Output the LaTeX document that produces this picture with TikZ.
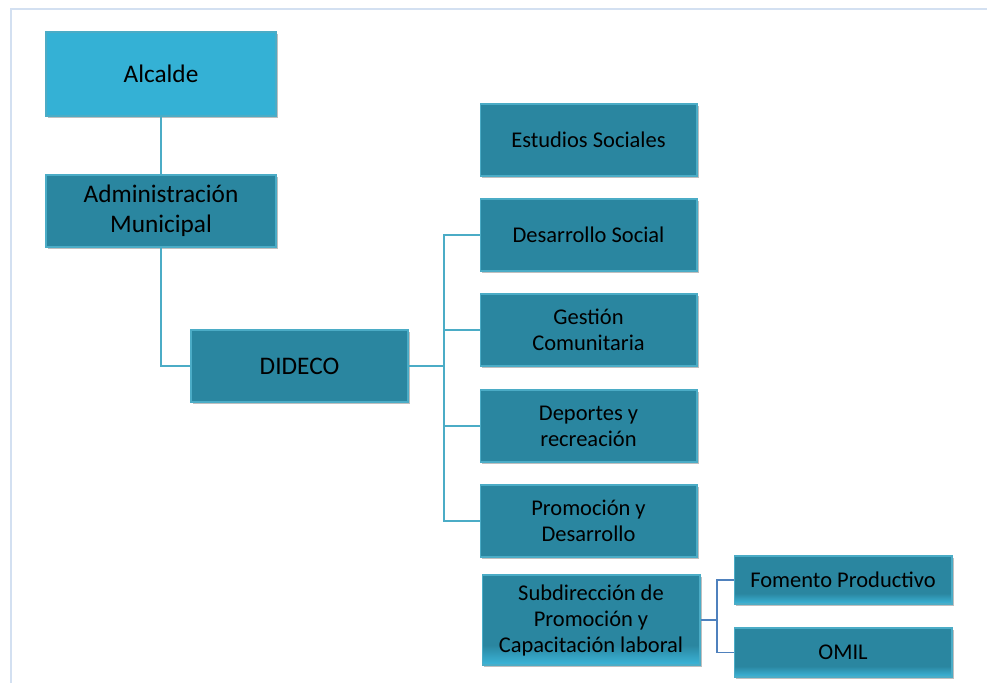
\documentclass[tikz,border=0pt]{standalone}
\usepackage{fontspec}
\setmainfont{Carlito}
\usetikzlibrary{shadows}

\definecolor{boxtop}{HTML}{34B1D5}
\definecolor{boxteal}{HTML}{2A86A0}
\definecolor{boxedge}{HTML}{4BACC6}
\definecolor{boxlight}{HTML}{3CB6DA}
\definecolor{linkblue}{HTML}{4BACC6}
\definecolor{linkdark}{HTML}{4F81BD}
\definecolor{framecol}{HTML}{D3E0F1}

\pgfdeclareverticalshading{tealfade}{100bp}{color(0bp)=(boxlight); color(25bp)=(boxlight); color(36bp)=(boxteal); color(100bp)=(boxteal)}

\tikzset{
  unit/.style={rectangle, draw=boxedge, line width=0.6pt, fill=boxteal,
    align=center, text=black, inner sep=2pt,
    drop shadow={shadow xshift=1.2pt, shadow yshift=-1.2pt, opacity=0.25, fill=black}},
  bigunit/.style={unit, font=\fontsize{14.4}{17}\selectfont},
  smallunit/.style={unit, minimum width=4.34cm, minimum height=1.44cm,
    font=\fontsize{12.8}{14.8}\selectfont},
  fadeunit/.style={smallunit, shading=tealfade, minimum width=4.36cm},
  link/.style={draw=linkblue, line width=0.8pt},
  sublink/.style={draw=linkdark, line width=0.8pt}
}

\begin{document}
\begin{tikzpicture}[x=0.02cm, y=-0.02cm]

      \useasboundingbox (0,0) rectangle (987,683);
      \draw[framecol, line width=1.2pt] (11,683) -- (11,9) -- (987,9);

      \begin{scope}[every node/.style={bigunit}]
        \node[fill=boxtop, minimum width=4.6cm, minimum height=1.68cm] (1) at (161,74) {Alcalde};
        \node[minimum width=4.6cm, minimum height=1.44cm] (2) at (161,211) {Administración\\Municipal};
        \node[minimum width=4.34cm, minimum height=1.44cm] (3) at (299.5,366) {DIDECO};
      \end{scope}

      \begin{scope}[every node/.style={smallunit}]
        \node (4) at (588.5,140) {Estudios Sociales};
        \node (5) at (588.5,235) {Desarrollo Social};
        \node (6) at (588.5,330) {Gestión\\Comunitaria};
        \node (7) at (588.5,426) {Deportes y\\recreación};
        \node (8) at (588.5,521) {Promoción y\\Desarrollo};
      \end{scope}

      \begin{scope}[every node/.style={fadeunit}]
        \node[minimum height=1.8cm] (9) at (591,620) {Subdirección de\\Promoción y\\Capacitación laboral};
        \node[minimum height=0.96cm] (10) at (843,580) {Fomento Productivo};
        \node[minimum height=0.98cm] (11) at (843,652.5) {OMIL};
      \end{scope}

      \coordinate (c1) at (444,366);
      \coordinate (c2) at (717,620);

      \path[link] (1.south) -- (2.north);
      \path[link] (2.south) |- (3.west);
      \path[link] (3.east) -- (c1);
      \path[link] (c1) |- (5.west);
      \path[link] (c1) |- (6.west);
      \path[link] (c1) |- (7.west);
      \path[link] (c1) |- (8.west);

      \path[sublink] (9.east) -- (c2);
      \path[sublink] (c2) |- (10.west);
      \path[sublink] (c2) |- (11.west);

    \end{tikzpicture}
\end{document}
